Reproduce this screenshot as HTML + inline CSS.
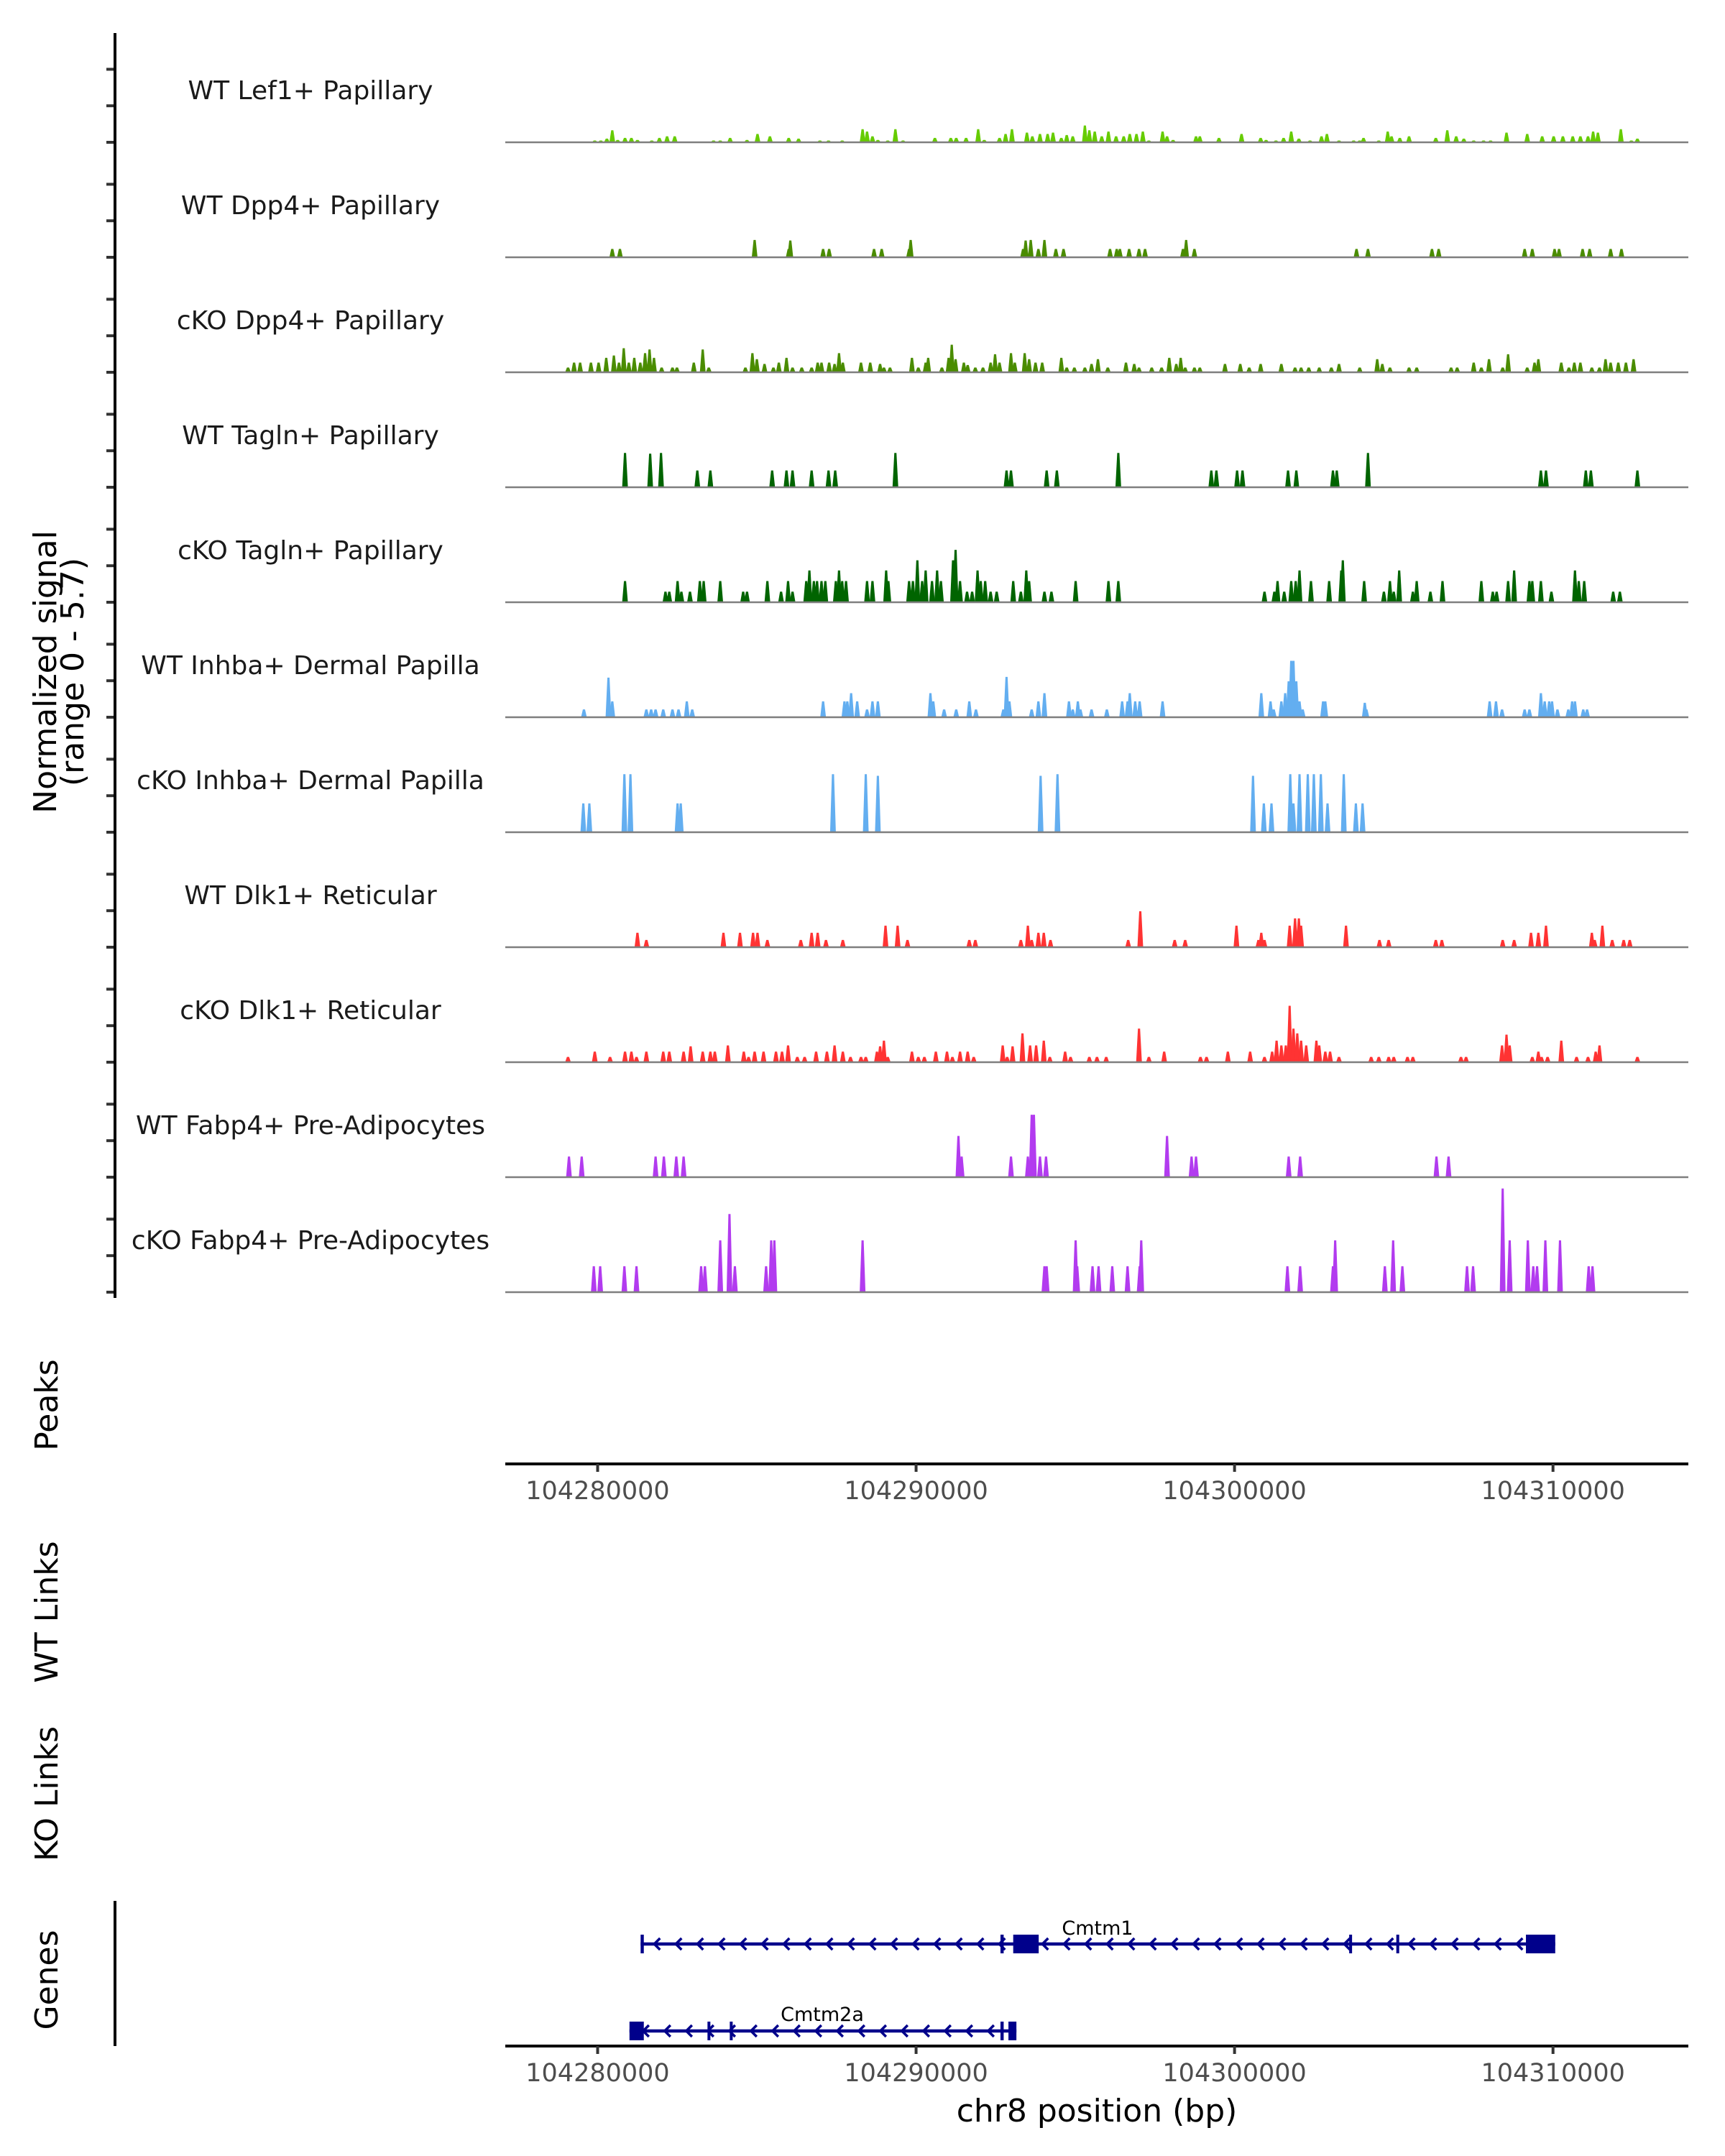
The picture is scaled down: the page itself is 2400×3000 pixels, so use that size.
<!DOCTYPE html>
<html><head><meta charset="utf-8"><style>
html,body{margin:0;padding:0;background:#fff;}
svg{display:block;font-family:"DejaVu Sans","Liberation Sans",sans-serif;}
</style></head><body>
<svg id="chart" width="2400" height="3000" viewBox="0 0 2400 3000" xmlns="http://www.w3.org/2000/svg">
<rect width="2400" height="3000" fill="#fff"/>
<g id="tracks"></g>
<g id="axes"></g>
<g id="genes"></g>
<text transform="translate(78,935) rotate(-90)" text-anchor="middle" font-size="44" fill="#000">Normalized signal</text>
<text transform="translate(116,935) rotate(-90)" text-anchor="middle" font-size="44" fill="#000">(range 0 - 5.7)</text>
<text transform="translate(80,1955) rotate(-90)" text-anchor="middle" font-size="44">Peaks</text>
<text transform="translate(80,2243) rotate(-90)" text-anchor="middle" font-size="44">WT Links</text>
<text transform="translate(80,2496) rotate(-90)" text-anchor="middle" font-size="44">KO Links</text>
<text transform="translate(80,2755) rotate(-90)" text-anchor="middle" font-size="44">Genes</text>
<text x="1526" y="2952" text-anchor="middle" font-size="44">chr8 position (bp)</text>
</svg>
<script>
// positions in kb beyond 104,000,000 bp; heights in normalized signal units
const trackNames = ["WT Lef1+ Papillary","WT Dpp4+ Papillary","cKO Dpp4+ Papillary","WT Tagln+ Papillary","cKO Tagln+ Papillary","WT Inhba+ Dermal Papilla","cKO Inhba+ Dermal Papilla","WT Dlk1+ Reticular","cKO Dlk1+ Reticular","WT Fabp4+ Pre-Adipocytes","cKO Fabp4+ Pre-Adipocytes"];
const trackColors = ["#66cc00","#4a8c00","#4a8c00","#006400","#006400","#63aef0","#63aef0","#ff3333","#ff3333","#b23bef","#b23bef"];
const xTicks = [104280000,104290000,104300000,104310000];
const yTicks = [0,2,4];
const wtLef1 = [[279.91,.1],[280.10,.1],[280.29,.2],[280.46,.66],[280.63,.13],[280.86,.24],[281.06,.24],[281.25,.13],[281.70,.1],[281.94,.24],[282.18,.33],[282.42,.33],[283.64,.1],[283.85,.1],[284.16,.24],[284.69,.13],[285.02,.46],[285.41,.33],[286.00,.24],[286.31,.2],[286.98,.1],[287.25,.1],[287.68,.1],[288.32,.72],[288.46,.59],[288.63,.33],[288.80,.13],[289.11,.1],[289.35,.72],[289.59,.1],[290.59,.24],[291.09,.24],[291.26,.24],[291.57,.24],[291.95,.72],[292.14,.13],[292.62,.24],[292.81,.46],[293.01,.72],[293.48,.53],[293.65,.33],[293.89,.46],[294.13,.46],[294.30,.53],[294.56,.24],[294.73,.4],[294.92,.33],[295.30,.92],[295.44,.66],[295.61,.59],[295.83,.33],[296.04,.59],[296.28,.33],[296.52,.33],[296.71,.46],[296.92,.46],[297.12,.59],[297.31,.1],[297.74,.59],[297.88,.33],[298.07,.13],[298.79,.33],[298.91,.33],[299.51,.24],[300.22,.46],[300.82,.24],[300.99,.13],[301.30,.1],[301.54,.24],[301.78,.59],[302.02,.2],[302.37,.1],[302.73,.33],[302.90,.46],[303.28,.1],[303.74,.1],[303.93,.1],[304.05,.24],[304.53,.1],[304.81,.59],[304.93,.33],[305.19,.24],[305.48,.33],[306.32,.24],[306.68,.66],[306.96,.33],[307.20,.2],[307.51,.1],[307.82,.1],[308.04,.1],[308.54,.53],[309.19,.46],[309.66,.33],[310.02,.33],[310.31,.33],[310.62,.33],[310.86,.33],[311.10,.33],[311.26,.59],[311.41,.53],[312.13,.72],[312.46,.1],[312.65,.2]];
const wtDpp4 = [[280.46,.46],[280.70,.46],[284.93,.95],[286.00,.46],[286.05,.92],[287.08,.46],[287.27,.46],[288.68,.46],[288.92,.46],[289.78,.46],[289.83,.95],[293.36,.46],[293.44,.92],[293.60,.95],[293.84,.46],[294.03,.95],[294.39,.46],[294.63,.46],[296.09,.46],[296.30,.46],[296.40,.46],[296.69,.46],[297.00,.46],[297.19,.46],[298.38,.46],[298.48,.95],[298.74,.46],[303.83,.46],[304.19,.46],[306.20,.46],[306.41,.46],[309.11,.46],[309.35,.46],[310.05,.46],[310.19,.46],[310.93,.46],[311.15,.46],[311.81,.46],[312.15,.46]];
const koDpp4 = [[279.07,.26],[279.26,.53],[279.45,.53],[279.79,.53],[280.03,.53],[280.27,.79],[280.51,.92],[280.67,.53],[280.82,1.32],[280.98,.53],[281.15,.79],[281.34,.53],[281.49,1.05],[281.63,1.25],[281.77,.79],[282.01,.26],[282.35,.26],[282.49,.26],[283.02,.53],[283.30,1.25],[283.49,.26],[284.64,.26],[284.86,1.05],[285.00,.72],[285.24,.46],[285.52,.26],[285.69,.53],[285.93,.79],[286.12,.26],[286.41,.26],[286.72,.26],[286.91,.53],[287.03,.53],[287.27,.53],[287.44,.46],[287.58,1.05],[287.70,.53],[288.27,.53],[288.56,.53],[288.87,.46],[288.99,.26],[289.18,.26],[289.87,.79],[290.07,.26],[290.30,.53],[290.38,.79],[290.81,.26],[291.02,.79],[291.12,1.51],[291.24,.72],[291.50,.53],[291.62,.4],[291.86,.26],[292.10,.26],[292.34,.53],[292.48,.99],[292.62,.53],[292.98,1.05],[293.10,.53],[293.41,1.05],[293.55,.72],[293.75,.53],[293.96,.53],[294.56,.79],[294.73,.26],[294.97,.26],[295.30,.26],[295.51,.46],[295.71,.72],[296.02,.26],[296.59,.53],[296.85,.46],[297.00,.26],[297.40,.26],[297.71,.26],[297.95,.79],[298.17,.46],[298.31,.79],[298.45,.26],[298.74,.26],[298.91,.26],[299.70,.46],[300.18,.46],[300.46,.26],[300.82,.46],[301.47,.46],[301.90,.26],[302.09,.26],[302.33,.26],[302.66,.26],[303.04,.26],[303.28,.46],[303.93,.26],[304.48,.72],[304.64,.46],[304.88,.26],[305.48,.26],[305.72,.26],[306.80,.26],[306.99,.26],[307.51,.53],[307.75,.26],[307.99,.72],[308.42,.26],[308.59,.99],[309.19,.26],[309.42,.53],[309.54,.72],[310.26,.53],[310.50,.26],[310.67,.53],[310.86,.53],[311.22,.26],[311.46,.26],[311.65,.72],[311.81,.53],[312.05,.53],[312.29,.53],[312.53,.72]];
const wtTagln = [[280.86,1.88],[281.65,1.84],[281.99,1.88],[283.13,.92],[283.54,.92],[285.48,.92],[285.93,.92],[286.12,.92],[286.72,.92],[287.25,.92],[287.46,.92],[289.35,1.88],[292.84,.92],[292.98,.92],[294.10,.92],[294.42,.92],[296.35,1.88],[299.27,.92],[299.43,.92],[300.08,.92],[300.25,.92],[301.68,.92],[301.94,.92],[303.09,.92],[303.21,.92],[304.19,1.88],[309.62,.92],[309.78,.92],[311.03,.92],[311.19,.92],[312.65,.92]];
const koTagln = [[280.86,1.16],[282.13,.58],[282.25,.58],[282.51,1.16],[282.63,.58],[282.90,.58],[283.21,1.16],[283.33,1.16],[283.85,1.16],[284.57,.58],[284.69,.58],[285.33,1.16],[285.76,.58],[285.98,1.16],[286.12,.58],[286.55,1.16],[286.65,1.74],[286.79,1.16],[286.89,1.16],[287.03,1.16],[287.15,1.16],[287.48,1.16],[287.58,1.74],[287.68,1.16],[287.80,1.16],[288.46,1.16],[288.63,1.16],[289.06,1.74],[289.13,1.16],[289.78,1.16],[289.90,1.16],[290.04,2.3],[290.19,1.16],[290.30,1.74],[290.50,1.16],[290.66,1.74],[290.78,1.16],[291.16,2.3],[291.24,2.87],[291.38,1.16],[291.60,.58],[291.76,.58],[291.93,1.74],[292.03,1.16],[292.17,1.16],[292.34,.58],[292.53,.58],[293.05,1.16],[293.29,.58],[293.46,1.74],[293.55,1.16],[294.03,.58],[294.25,.58],[295.01,1.16],[296.04,1.16],[296.35,1.16],[300.94,.58],[301.25,.58],[301.35,1.16],[301.56,.58],[301.78,1.16],[301.92,1.16],[302.04,1.74],[302.40,1.16],[302.97,1.16],[303.35,1.74],[303.40,2.3],[304.07,1.16],[304.69,.58],[304.88,1.16],[305.00,.58],[305.17,1.74],[305.60,.58],[305.72,1.16],[306.15,.58],[306.53,1.16],[307.75,1.16],[308.11,.58],[308.23,.58],[308.59,1.16],[308.78,1.74],[309.26,1.16],[309.35,1.16],[309.62,1.16],[309.95,.58],[310.69,1.74],[310.81,1.16],[310.98,1.16],[311.89,.58],[312.10,.58]];
const wtInhba = [[279.57,.43],[280.34,2.17],[280.46,.87],[281.53,.43],[281.68,.43],[281.82,.43],[282.06,.43],[282.35,.43],[282.54,.43],[282.80,.87],[282.97,.43],[287.08,.87],[287.75,.87],[287.84,.87],[287.96,1.32],[288.15,.87],[288.46,.43],[288.63,.87],[288.80,.87],[290.45,1.32],[290.54,.87],[290.88,.43],[291.26,.43],[291.67,.87],[291.88,.43],[292.74,.43],[292.84,2.21],[292.93,.87],[293.63,.43],[293.84,.87],[294.03,1.32],[294.80,.87],[294.92,.43],[295.08,.87],[295.16,.43],[295.51,.43],[295.99,.43],[296.47,.87],[296.64,.87],[296.71,1.32],[296.88,.87],[297.02,.87],[297.74,.87],[300.84,1.32],[301.13,.87],[301.23,.43],[301.47,.87],[301.59,1.32],[301.70,1.97],[301.78,3.09],[301.85,3.09],[301.94,1.97],[302.04,.87],[302.14,.43],[302.78,.87],[302.85,.87],[304.09,.79],[304.14,.43],[308.01,.87],[308.21,.87],[308.40,.43],[309.11,.43],[309.26,.43],[309.62,1.32],[309.74,.87],[309.88,.87],[309.97,.87],[310.14,.43],[310.48,.43],[310.60,.87],[310.69,.87],[310.95,.43],[311.07,.43]];
const koInhba = [[279.55,1.58],[279.74,1.58],[280.84,3.18],[281.03,3.18],[282.51,1.58],[282.61,1.58],[287.39,3.18],[288.42,3.18],[288.80,3.09],[293.91,3.09],[294.44,3.18],[300.58,3.09],[300.92,1.58],[301.16,1.58],[301.75,3.18],[301.85,1.58],[302.04,3.18],[302.30,3.18],[302.49,3.18],[302.71,3.18],[302.92,1.58],[303.43,3.18],[303.81,1.58],[304.02,1.58]];
const wtDlk1 = [[281.25,.79],[281.53,.4],[283.95,.79],[284.47,.79],[284.88,.79],[285.02,.79],[285.33,.4],[286.38,.4],[286.72,.79],[286.91,.79],[287.17,.4],[287.70,.4],[289.04,1.18],[289.42,1.18],[289.73,.4],[291.67,.4],[291.86,.4],[293.29,.4],[293.51,1.18],[293.63,.4],[293.84,.79],[294.01,.79],[294.22,.4],[296.66,.4],[297.04,1.97],[298.12,.4],[298.45,.4],[300.06,1.18],[300.75,.4],[300.84,.79],[300.94,.4],[301.73,1.18],[301.90,1.58],[302.02,1.58],[302.09,1.18],[303.50,1.18],[304.55,.4],[304.84,.4],[306.32,.4],[306.51,.4],[308.42,.4],[308.78,.4],[309.31,.79],[309.54,.79],[309.78,1.18],[311.22,.79],[311.31,.4],[311.55,1.18],[311.86,.4],[312.22,.4],[312.41,.4]];
const koDlk1 = [[279.07,.29],[279.91,.58],[280.39,.29],[280.86,.58],[281.06,.58],[281.22,.29],[281.53,.58],[282.06,.58],[282.25,.58],[282.70,.58],[282.92,.87],[283.30,.58],[283.54,.58],[283.68,.58],[284.09,.92],[284.59,.58],[284.74,.29],[284.93,.58],[285.21,.58],[285.60,.58],[285.79,.58],[285.98,.92],[286.27,.29],[286.50,.29],[286.86,.58],[287.20,.58],[287.44,.92],[287.70,.58],[287.94,.29],[288.27,.29],[288.42,.29],[288.77,.58],[288.87,.87],[288.99,1.18],[289.11,.29],[289.87,.58],[290.07,.29],[290.26,.29],[290.62,.58],[290.97,.58],[291.14,.29],[291.38,.58],[291.62,.58],[291.81,.29],[292.72,.92],[292.86,.29],[293.03,.87],[293.34,1.58],[293.58,.92],[293.77,.92],[294.01,1.18],[294.20,.29],[294.68,.58],[294.85,.29],[295.44,.29],[295.68,.29],[295.97,.29],[297.00,1.84],[297.31,.29],[297.79,.58],[298.93,.29],[299.12,.29],[299.79,.58],[300.49,.58],[300.94,.29],[301.18,.58],[301.32,1.18],[301.47,.92],[301.61,.92],[301.73,3.09],[301.85,1.84],[301.97,1.58],[302.09,1.18],[302.25,.92],[302.57,1.18],[302.66,.92],[302.85,.58],[303.00,.58],[303.28,.29],[304.29,.29],[304.53,.29],[304.84,.29],[305.00,.29],[305.43,.29],[305.60,.29],[307.11,.29],[307.27,.29],[308.40,.92],[308.54,1.51],[308.64,.92],[309.35,.29],[309.54,.58],[309.64,.29],[309.83,.29],[310.26,1.18],[310.74,.29],[311.10,.29],[311.34,.58],[311.46,.92],[312.65,.29]];
const wtFabp4 = [[279.10,1.13],[279.50,1.13],[281.82,1.13],[282.08,1.13],[282.47,1.13],[282.70,1.13],[291.33,2.26],[291.43,1.13],[292.98,1.13],[293.51,1.13],[293.63,3.42],[293.70,3.42],[293.89,1.13],[294.08,1.13],[297.88,2.26],[298.65,1.13],[298.79,1.13],[301.70,1.13],[302.06,1.13],[306.34,1.13],[306.72,1.13]];
const koFabp4 = [[279.88,1.42],[280.08,1.42],[280.84,1.42],[281.22,1.42],[283.25,1.42],[283.37,1.42],[283.85,2.84],[284.14,4.28],[284.31,1.42],[285.29,1.42],[285.45,2.84],[285.55,2.84],[288.32,2.84],[294.03,1.42],[294.10,1.42],[295.01,2.84],[295.06,1.42],[295.54,1.42],[295.73,1.42],[296.16,1.42],[296.64,1.42],[297.02,1.42],[297.07,2.84],[301.66,1.42],[302.06,1.42],[303.09,1.42],[303.16,2.84],[304.72,1.42],[304.98,2.84],[305.27,1.42],[307.30,1.42],[307.49,1.42],[308.42,5.68],[308.64,2.84],[309.21,2.84],[309.38,1.42],[309.50,1.42],[309.76,2.84],[310.22,2.84],[311.12,1.42],[311.24,1.42]];
const trackData = [wtLef1,wtDpp4,koDpp4,wtTagln,koTagln,wtInhba,koInhba,wtDlk1,koDlk1,wtFabp4,koFabp4];
// genes: [start bp, end bp], exons in bp
const geneNames = ["Cmtm1","Cmtm2a"];
const geneSpans = [[104281350,104310070],[104281000,104293150]];
const geneExons = [[[104281350,104281450],[104292650,104292750],[104293050,104293850],[104303600,104303680],[104305080,104305160],[104309150,104310070]],[[104281000,104281450],[104283450,104283500],[104284150,104284200],[104292650,104292750],[104292900,104293150]]];

const NS="http://www.w3.org/2000/svg";
const X0=703,X1=2349,BP0=104277100,BP1=104314250;
const xs=bp=>X0+(bp-BP0)/(BP1-BP0)*(X1-X0);
const PANEL_TOP=46,PANEL_H=160,BASE_OFF=152,UNIT=25.4;
function el(tag,attrs,parent){const e=document.createElementNS(NS,tag);for(const k in attrs)e.setAttribute(k,attrs[k]);parent.appendChild(e);return e;}
const tg=document.getElementById('tracks');
const ax=document.getElementById('axes');
trackNames.forEach((name,i)=>{
  const top=PANEL_TOP+i*PANEL_H, base=top+BASE_OFF;
  const g=el('g',{},tg);
  
  
  const lab=el('text',{x:432,y:top+80+12,'text-anchor':'middle','font-size':36,fill:'#1a1a1a'},g);
  lab.textContent=name;
  
  
  trackData[i].forEach(([kb,v])=>{
    const cx=xs(104000000+kb*1000), h=v*UNIT;
    const p=el('polygon',{points:`${cx-4},${base} ${cx-1.5},${base-h} ${cx+1.5},${base-h} ${cx+4},${base}`,fill:trackColors[i]},g);
    
    
  });
  const bl=el('line',{x1:X0,x2:X1,y1:base,y2:base,stroke:'#7f7f7f','stroke-width':2.5},g);
  
  
  yTicks.forEach(t=>{
    const ty=base-t*UNIT;
    const tk=el('line',{x1:148,x2:160,y1:ty,y2:ty,stroke:'#333','stroke-width':4},ax);
    
    
  });
});
const yl=el('line',{x1:160,x2:160,y1:46,y2:1806,stroke:'#000','stroke-width':4},ax);


[2037,2847].forEach((ay,j)=>{
  const l=el('line',{x1:X0,x2:X1,y1:ay,y2:ay,stroke:'#000','stroke-width':4},ax);
  
  
  xTicks.forEach(t=>{
    const tx=xs(t);
    const tk=el('line',{x1:tx,x2:tx,y1:ay,y2:ay+11,stroke:'#333','stroke-width':4},ax);
    
    
    const tl=el('text',{x:tx,y:ay+49,'text-anchor':'middle','font-size':35,fill:'#4d4d4d'},ax);
    tl.textContent=t;
    
    
  });
});
const gl=el('line',{x1:160,x2:160,y1:2645,y2:2847,stroke:'#000','stroke-width':4},ax);


const gg=document.getElementById('genes');
const geneY=[2705,2826];
geneNames.forEach((name,i)=>{
  const y=geneY[i], g=el('g',{},gg);
  
  
  const xa=xs(geneSpans[i][0]), xb=xs(geneSpans[i][1]);
  el('line',{x1:xa,x2:xb,y1:y,y2:y,stroke:'#00008b','stroke-width':4.5},g);
  for(let cx=xa+22;cx<xb-10;cx+=30){
    el('polyline',{points:`${cx+5},${y-8} ${cx-3},${y} ${cx+5},${y+8}`,fill:'none',stroke:'#00008b','stroke-width':3.5},g);
  }
  geneExons[i].forEach(([a,b])=>{
    const ea=xs(a), eb=Math.max(xs(b),ea+4);
    el('rect',{x:ea,y:y-13,width:eb-ea,height:26,fill:'#00008b'},g);
  });
  const t=el('text',{x:(i===0?1527:1144),y:y-(i===0?13:14),'text-anchor':'middle','font-size':27,fill:'#000'},g);
  t.textContent=name;
  
  
});
</script>
</body></html>
